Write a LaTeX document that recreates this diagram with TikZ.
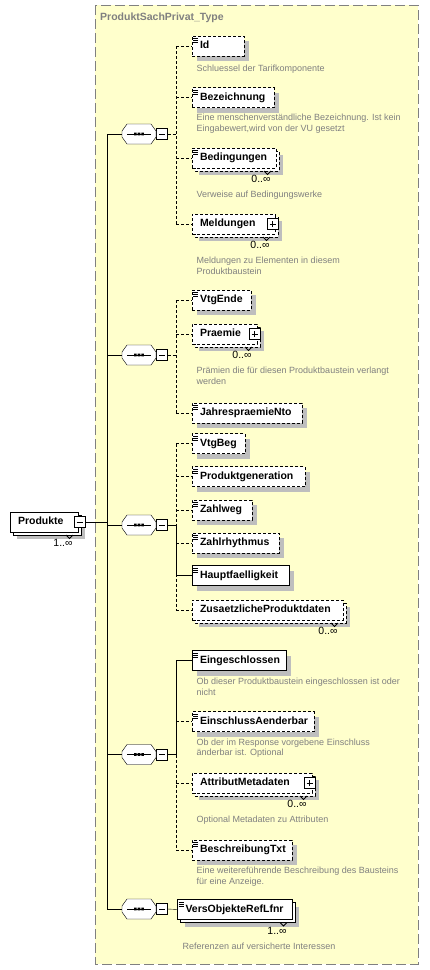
\documentclass[tikz,border=0pt]{standalone}
\usepackage{fontspec}
\setmainfont{Liberation Sans}
\definecolor{typefill}{RGB}{255,255,204}
\definecolor{typeline}{RGB}{128,128,128}
\definecolor{docgrey}{RGB}{128,128,128}
\definecolor{shadegrey}{RGB}{190,190,190}
\pgfdeclarelayer{back}
\pgfdeclarelayer{shade}
\pgfsetlayers{back,shade,main}

\begin{document}
\begin{tikzpicture}[x=1pt,y=-1pt,line width=1pt,
        opt/.style={dash pattern=on 3pt off 2pt},
        elem/.style={draw,fill=white,anchor=west,minimum height=20pt,text width=#1pt,
            text height=7.5pt,text depth=2.5pt,inner xsep=8pt,inner ysep=0pt,outer sep=0pt,
            align=left,font=\fontsize{10.5}{12}\selectfont\bfseries},
        seq/.style={minimum width=34pt,minimum height=20pt,inner sep=0pt,outer sep=0pt},
        tgl/.style={draw,fill=white,solid,minimum size=11pt,inner sep=0pt,outer sep=0pt},
        tglminus/.style={path picture={\draw ([xshift=2.5pt]path picture bounding box.west) -- ([xshift=-2.5pt]path picture bounding box.east);}},
        tglplus/.style={path picture={\draw ([xshift=2.5pt]path picture bounding box.west) -- ([xshift=-2.5pt]path picture bounding box.east)
            ([yshift=2.5pt]path picture bounding box.south) -- ([yshift=-2.5pt]path picture bounding box.north);}},
        doc/.style={anchor=north west,inner sep=0pt,align=left,text=docgrey,font=\fontsize{9}{10.7}\selectfont},
        occ/.style={anchor=north east,inner sep=0pt,font=\fontsize{10.5}{12}\selectfont}]
    \useasboundingbox (0,0) rectangle (430,970);
    \begin{pgfonlayer}{back}
        \draw[typeline,fill=typefill,dash pattern=on 10pt off 4pt] (95,5) rectangle (418,964);
    \end{pgfonlayer}
    \node at(100,18)[anchor=west,inner sep=0pt,text=typeline,font=\fontsize{10.5}{12}\selectfont\bfseries](title){ProduktSachPrivat\_Type};
    \coordinate (trunk) at (107,0);
    \coordinate (spine) at (176,0);
    \foreach \i/\y in {1/134,2/355,3/525,4/754.5,5/909}
        \node at(139,\y)[seq](s\i){}
            node at(162,\y)[tgl,tglminus](m\i){};
    \foreach \n/\t/\y/\w[evaluate=\w as\tw using \w-16] in {
            id/Id/46/52, bez/Bezeichnung/97.5/82, vtgende/VtgEnde/300/59,
            jpn/JahrespraemieNto/413/110, vtgbeg/VtgBeg/443.5/53, pgen/Produktgeneration/476.5/113,
            zahlweg/Zahlweg/510/60, zrh/Zahlrhythmus/543/87, eae/EinschlussAenderbar/721.5/122,
            btxt/BeschreibungTxt/850/100}
        \node at(192,\y)[elem=\tw,opt](\n){\mbox{\t}};
    \foreach \n/\t/\y/\w[evaluate=\w as\tw using \w-16] in {hf/Hauptfaelligkeit/575.5/97, eing/Eingeschlossen/660.5/94}
        \node at(192,\y)[elem=\tw](\n){\mbox{\t}};
    \foreach \n/\t/\y/\w[evaluate=\w as\tw using \w-16] in {
            bed/Bedingungen/158/84, meld/Meldungen/224/83, praemie/Praemie/334/65,
            zpd/ZusaetzlicheProduktdaten/610/151, amd/AttributMetadaten/783/120}
        \node at(192,\y)[elem=\tw,opt](\n){\mbox{\t}};
    \node at(177.5,909.5)[elem=98.5](vorl){VersObjekteRefLfnr};
    \node at(10,522)[elem=52](prod){Produkte};
    \node at([xshift=1.5pt]prod.east)[tgl,tglminus](prodm){};
    \foreach \n in {meld,praemie,amd}
        \node at([xshift=-2.5pt]\n.east)[tgl,tglplus](\n-x){};
    \begin{pgfonlayer}{shade}
        \foreach \n in {id,bez,vtgende,jpn,vtgbeg,pgen,zahlweg,zrh,eae,btxt,hf,eing}
            \fill[shadegrey] ([shift={(5,5)}]\n.north west) rectangle ([shift={(5,5)}]\n.south east);
        \foreach \n/\o in {bed/opt,meld/opt,praemie/opt,zpd/opt,amd/opt,vorl/solid,prod/solid}{
            \fill[shadegrey] ([shift={(7,7)}]\n.north west) rectangle ([shift={(7,7)}]\n.south east);
            \draw[fill=white,\o] ([shift={(3,3)}]\n.north west) rectangle ([shift={(3,3)}]\n.south east);
        }
        \foreach \i in {1,...,5}
            \fill[shadegrey,shift={(5,5)}] ([xshift=5pt]s\i.north west) -- ([xshift=-5pt]s\i.north east) -- ([yshift=-7pt]s\i.north east)
                -- ([yshift=7pt]s\i.south east) -- ([xshift=-5pt]s\i.south east) -- ([xshift=5pt]s\i.south west)
                -- ([yshift=7pt]s\i.south west) -- ([yshift=-7pt]s\i.north west) -- cycle;
    \end{pgfonlayer}
    \foreach \i in {1,...,5}{
        \draw[fill=white] ([xshift=5pt]s\i.north west) -- ([xshift=-5pt]s\i.north east) -- ([yshift=-7pt]s\i.north east)
            -- ([yshift=7pt]s\i.south east) -- ([xshift=-5pt]s\i.south east) -- ([xshift=5pt]s\i.south west)
            -- ([yshift=7pt]s\i.south west) -- ([yshift=-7pt]s\i.north west) -- cycle;
        \draw ([xshift=5pt]s\i.west) -- ([xshift=-5pt]s\i.east);
        \fill foreach \d in {-3.6,0,3.6} {([xshift=\d pt]s\i.center) +(-1.3,-1.3) rectangle +(1.3,1.3)};
    }
    \foreach \n in {id,bez,bed,vtgende,jpn,vtgbeg,pgen,zahlweg,zrh,hf,eing,eae,btxt,vorl}
        \draw[line width=.8pt] foreach \k in {2.5,4.5,6.5} {([shift={(1,\k)}]\n.north west) -- +(5,0)};
    \foreach \n/\t in {bed/0..∞,meld/0..∞,praemie/0..∞,zpd/0..∞,amd/0..∞,vorl/1..∞,prod/1..∞}
        \draw[line width=.8pt] ([shift={(-12,3)}]\n.south east) -- ++(3.5,3.5) -- ++(3.5,-3.5)
            node at([shift={(-5,7)}]\n.south east)[occ](\n-n){\t};
    \foreach \n/\y/\t in {
            id/69.3/Schluessel der Tarifkomponente,
            bez/119/{Eine menschenverständliche Bezeichnung. Ist kein\\Eingabewert,wird von der VU gesetzt},
            bed/195.7/Verweise auf Bedingungswerke,
            meld/261.7/{Meldungen zu Elementen in diesem\\Produktbaustein},
            praemie/371.7/{Prämien die für diesen Produktbaustein verlangt\\werden},
            eing/682.7/{Ob dieser Produktbaustein eingeschlossen ist oder\\nicht},
            eae/743.3/{Ob der im Response vorgebene Einschluss\\änderbar ist. Optional},
            amd/820.7/Optional Metadaten zu Attributen,
            btxt/871.7/{Eine weitereführende Beschreibung des Bausteins\\für eine Anzeige.}}
        \node at(196.5,\y-5)[doc](\n-d){\t};
    \node at(182.5,942.3)[doc](vorl-d){Referenzen auf versicherte Interessen};
    \draw (prodm.east) -- (prodm.east -| trunk);
    \draw (s1.west -| trunk) -- (s5.west -| trunk);
    \foreach \i in {1,...,5}
        \draw (s\i.west -| trunk) -- (s\i.west);
    \draw[opt] (m1.east) -- (m1.east -| spine) (id.west -| spine) -- (meld.west -| spine);
    \draw[opt] (m2.east) -- (m2.east -| spine) (vtgende.west -| spine) -- (jpn.west -| spine);
    \draw[opt] (vtgbeg.west -| spine) -- (zpd.west -| spine);
    \draw (m3.east) -- (m3.east -| spine) |- (hf.west);
    \draw (eing.west) -| (m4.east -| spine) -- (m4.east);
    \draw[opt] (m4.east -| spine) -- (btxt.west -| spine);
    \draw (m5.east) -- (vorl.west);
    \foreach \n in {id,bez,bed,meld,vtgende,praemie,jpn,vtgbeg,pgen,zahlweg,zrh,zpd,eae,amd,btxt}
        \draw[opt] (\n.west -| spine) -- (\n.west);
\end{tikzpicture}
\end{document}
